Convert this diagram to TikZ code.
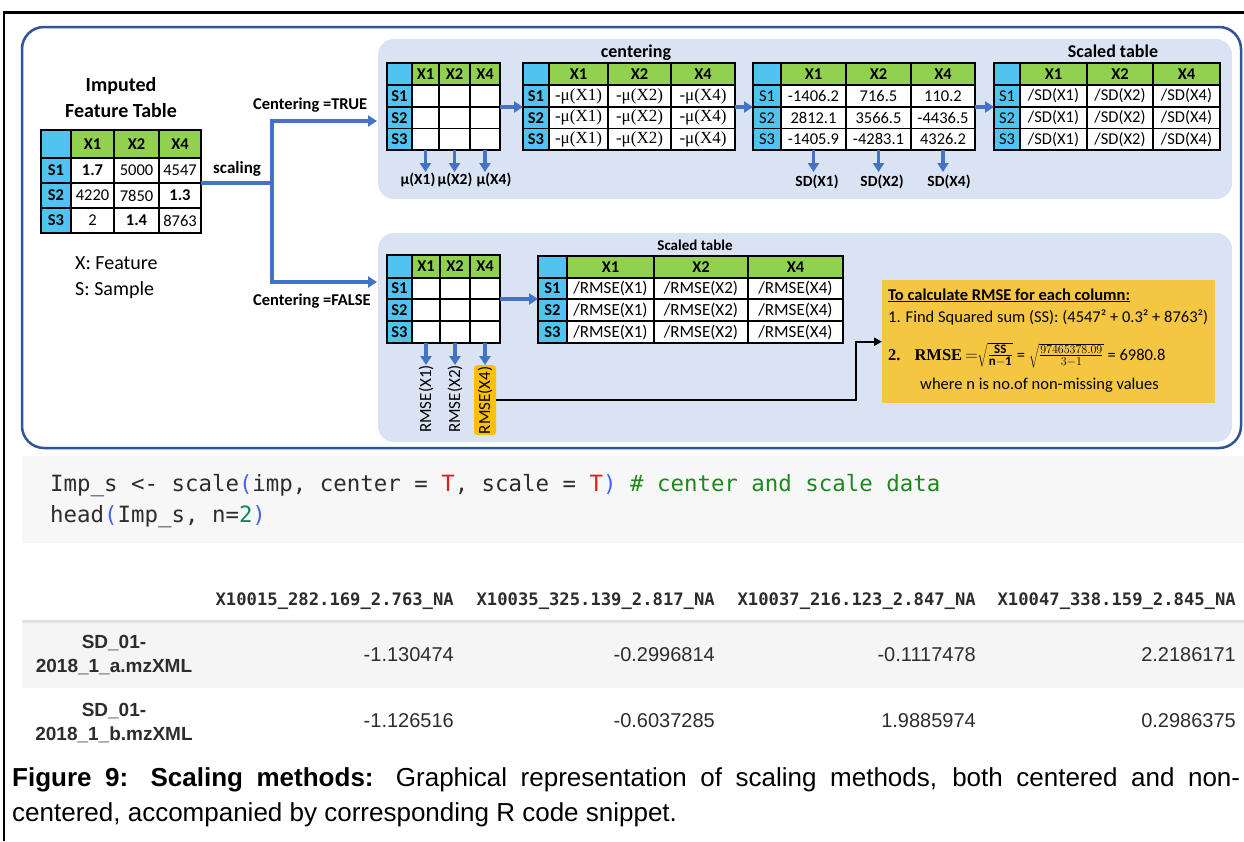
\documentclass[tikz,border=0pt]{standalone}
\usepackage{fontspec}
\setmainfont{Carlito}
\newfontfamily\tnr{Liberation Serif}
\newfontfamily\arial{Liberation Sans}
\newfontfamily\dmono{DejaVu Sans Mono}
\usetikzlibrary{arrows.meta,calc}
\definecolor{colgreen}{RGB}{146,208,80}
\definecolor{rowblue}{RGB}{80,195,240}
\definecolor{panel}{RGB}{218,227,243}
\definecolor{frameblue}{RGB}{47,85,151}
\definecolor{arrowblue}{RGB}{68,114,196}
\definecolor{gold}{RGB}{245,198,66}
\definecolor{orangeY}{RGB}{255,192,0}
\definecolor{codebg}{RGB}{247,247,247}
\definecolor{rowbg}{RGB}{245,245,245}
\definecolor{sepgray}{RGB}{225,225,225}
\definecolor{rred}{RGB}{225,30,30}
\definecolor{rblue}{RGB}{70,100,235}
\definecolor{rgreen}{RGB}{30,135,30}
\definecolor{rnum}{RGB}{20,135,90}
\definecolor{txtgray}{RGB}{45,45,45}
\tikzset{
  cellbox/.style={draw=black, line width=1.4pt, inner sep=0pt, outer sep=0pt, anchor=north west},
  arr/.style={draw=arrowblue, line width=3.2pt, -{Triangle[length=9pt,width=11pt]}},
  conn/.style={draw=arrowblue, line width=3.2pt},
  blkarr/.style={draw=black, line width=2pt, -{Triangle[length=8pt,width=8pt]}},
  lbl/.style={inner sep=0pt, anchor=base, font=\bfseries\fontsize{15.5}{18}\selectfont},
  ttl/.style={inner sep=0pt, anchor=base, font=\bfseries\fontsize{18}{21}\selectfont},
  rotlbl/.style={rotate=90, inner sep=0pt, anchor=east, font=\fontsize{17}{19}\selectfont},
  txt/.style={inner sep=0pt, anchor=base west},
  boxtxt/.style={inner sep=0pt, anchor=base west, font=\fontsize{16.5}{19}\selectfont},
}
% #1 name, #2 x list, #3 y list, #4 label font, #5 cell font, #6 rows
\newcommand\mktab[6]{%
  \def\XS{{#2}}\def\YS{{#3}}%
  \foreach \ci/\h in {0/{},1/X1,2/X2,3/X4}{%
    \pgfmathsetmacro\xa{\XS[\ci]}%
    \pgfmathsetmacro\xb{\XS[\ci+1]}%
    \pgfmathsetmacro\ya{\YS[0]}%
    \pgfmathsetmacro\yb{\YS[1]}%
    \ifnum\ci=0 \def\fc{rowblue}\else\def\fc{colgreen}\fi
    \node[cellbox, fill=\fc, minimum width={(\xb-\xa)*1pt}, minimum height={(\yb-\ya)*1pt}, font=\bfseries\fontsize{16.5}{19}\selectfont] (#1-0-\ci) at (\xa,\ya) {\h};
  }%
  \foreach \lab/\va/\vb/\vc [count=\ri] in {#6}{%
    \foreach \ci/\ct in {0/{#4\lab},1/{#5\va},2/{#5\vb},3/{#5\vc}}{%
      \pgfmathsetmacro\xa{\XS[\ci]}%
      \pgfmathsetmacro\xb{\XS[\ci+1]}%
      \pgfmathsetmacro\ya{\YS[\ri]}%
      \pgfmathsetmacro\yb{\YS[\ri+1]}%
      \ifnum\ci=0 \def\fc{rowblue}\else\def\fc{white}\fi
      \node[cellbox, fill=\fc, minimum width={(\xb-\xa)*1pt}, minimum height={(\yb-\ya)*1pt}] (#1-\ri-\ci) at (\xa,\ya) {\ct};
    }%
  }%
}
\begin{document}
\begin{tikzpicture}[x=1pt,y=-1pt]
\useasboundingbox (0,0) rectangle (1244,841);
\fill[white] (0,0) rectangle (1244,841);
% page frame
\draw[line width=2.8pt] (4,841) -- (4,12.5) -- (1244,12.5);
% outer rounded box and panels
\draw[frameblue, line width=2.5pt, rounded corners=22pt] (22,27) rectangle (1241,448);
\fill[panel, rounded corners=16pt] (378,39) rectangle (1232,199);
\fill[panel, rounded corners=16pt] (378,233) rectangle (1232,442);

% left table
\node[inner sep=0pt, align=center, font=\bfseries\fontsize{20}{26}\selectfont] (ttlLT) at (121,98) {Imputed\\Feature Table};
\mktab{LT}{41,71,114,159,201}{130,158,183,208,233}{\bfseries\fontsize{16.5}{19}\selectfont}{\fontsize{16.5}{19}\selectfont}
 {S1/{\bfseries 1.7}/5000/4547, S2/4220/7850/{\bfseries 1.3}, S3/2/{\bfseries 1.4}/8763}
\node[txt, font=\fontsize{20}{24}\selectfont] (legX) at (75,269) {X: Feature};
\node[txt, font=\fontsize{20}{24}\selectfont] (legS) at (75,295) {S: Sample};

% split
\coordinate (split) at (272,183);
\coordinate (topin) at (377,121);
\coordinate (botin) at (377,282);
\draw[conn] (LT-1-3.south east) -- (split);
\draw[arr] (split) |- (topin);
\draw[arr] (split) |- (botin);
\node[txt, font=\bfseries\fontsize{17}{20}\selectfont] (scl) at (213,173) {scaling};
\node[txt, font=\bfseries\fontsize{16.5}{20}\selectfont] (ctrue) at (253,109) {Centering =TRUE};
\node[txt, font=\bfseries\fontsize{16.5}{20}\selectfont] (cfalse) at (253,305) {Centering =FALSE};

% top panel tables
\mktab{T1}{387,412,439,470,500}{63,85,107,128.5,150}{\bfseries\fontsize{16.5}{19}\selectfont}{\fontsize{16}{19}\selectfont}
 {S1/{}/{}/{}, S2/{}/{}/{}, S3/{}/{}/{}}
\mktab{T2}{523,549,608,671,735}{63,85,107,128.5,150}{\bfseries\fontsize{16.5}{19}\selectfont}{\tnr\fontsize{17}{19}\selectfont}
 {S1/{-μ(X1)}/{-μ(X2)}/{-μ(X4)}, S2/{-μ(X1)}/{-μ(X2)}/{-μ(X4)}, S3/{-μ(X1)}/{-μ(X2)}/{-μ(X4)}}
\mktab{T3}{753,781,846,911,975}{63,85,107,128.5,150}{\fontsize{16.5}{19}\selectfont}{\fontsize{16.5}{19}\selectfont}
 {S1/{-1406.2}/{716.5}/{110.2}, S2/{2812.1}/{3566.5}/{-4436.5}, S3/{-1405.9}/{-4283.1}/{4326.2}}
\mktab{T4}{994,1020,1087,1153,1220}{63,85,107,128.5,150}{\fontsize{16.5}{19}\selectfont}{\fontsize{16.5}{19}\selectfont}
 {S1/{/SD(X1)}/{/SD(X2)}/{/SD(X4)}, S2/{/SD(X1)}/{/SD(X2)}/{/SD(X4)}, S3/{/SD(X1)}/{/SD(X2)}/{/SD(X4)}}
\node[ttl] (tcent) at (636,57) {centering};
\node[ttl] (tscal) at (1113,57) {Scaled table};
\draw[arr] (T1-2-3.north east) -- (T2-2-0.north west);
\draw[arr] (T2-2-3.north east) -- (T3-2-0.north west);
\draw[arr] (T3-2-3.north east) -- (T4-2-0.north west);
% mu labels
\node[lbl] (mu1) at (418,184) {μ(X1)};
\node[lbl] (mu2) at (455,184) {μ(X2)};
\node[lbl] (mu4) at (494,184) {μ(X4)};
\draw[arr] (T1-3-1.south) -- ++(0,22);
\draw[arr] (T1-3-2.south) -- ++(0,22);
\draw[arr] (T1-3-3.south) -- ++(0,22);
% SD labels
\node[lbl] (sd1) at (817,186) {SD(X1)};
\node[lbl] (sd2) at (882,186) {SD(X2)};
\node[lbl] (sd4) at (949,186) {SD(X4)};
\draw[arr] (T3-3-1.south) -- ++(0,22);
\draw[arr] (T3-3-2.south) -- ++(0,22);
\draw[arr] (T3-3-3.south) -- ++(0,22);

% bottom panel tables
\mktab{B1}{387,412,440,470,500}{255,278,299,321,343}{\bfseries\fontsize{16.5}{19}\selectfont}{\fontsize{16}{19}\selectfont}
 {S1/{}/{}/{}, S2/{}/{}/{}, S3/{}/{}/{}}
\mktab{B2}{538,567,654,748,843}{256,278,299,321,343}{\bfseries\fontsize{16.5}{19}\selectfont}{\fontsize{17}{19}\selectfont}
 {S1/{/RMSE(X1)}/{/RMSE(X2)}/{/RMSE(X4)}, S2/{/RMSE(X1)}/{/RMSE(X2)}/{/RMSE(X4)}, S3/{/RMSE(X1)}/{/RMSE(X2)}/{/RMSE(X4)}}
\node[inner sep=0pt, anchor=base, font=\bfseries\fontsize{15}{18}\selectfont] (tscal2) at (695,250) {Scaled table};
\draw[arr] (B1-2-3.north east) -- (B2-2-0.north west);
\node[rotlbl] (r1) at ([yshift=-22pt]B1-3-1.south) {RMSE(X1)};
\node[rotlbl] (r2) at ([yshift=-22pt]B1-3-2.south) {RMSE(X2)};
\node[rotlbl, fill=orangeY, rounded corners=3pt, minimum width=70pt, minimum height=22pt] (r4) at ([yshift=-22pt]B1-3-3.south) {RMSE(X4)};
\draw[arr] (B1-3-1.south) -- (r1.east);
\draw[arr] (B1-3-2.south) -- (r2.east);
\draw[arr] (B1-3-3.south) -- (r4.east);

% RMSE box
\node[fill=gold, inner sep=0pt, anchor=north west, minimum width=333pt, minimum height=123pt] (rmsebox) at (882,280) {};
\draw[blkarr] (r4.south) -| ([xshift=-26pt]rmsebox.west) -- (rmsebox.west);
\node[boxtxt] (rm1) at (888,300) {\underline{\textbf{To calculate RMSE for each column:}}};
\node[boxtxt] (rm2) at (888,322) {1. Find Squared sum (SS): (4547² + 0.3² + 8763²)};
\node[boxtxt] (rm3) at (888,360) {{\tnr\bfseries 2.\hspace{14pt}RMSE}\hspace{3pt}{\fontsize{18.5}{20}\selectfont$\mathbf{=}\sqrt{\frac{\mathbf{SS}}{\rule{0pt}{8pt}\mathbf{n-1}}}$}\hspace{4pt}=\hspace{4pt}{\fontsize{18.5}{20}\selectfont$\sqrt{\frac{97465378.09}{\rule{0pt}{8pt}3-1}}$}\hspace{4pt}= 6980.8};
\node[boxtxt] (rm4) at (920,389) {where n is no.of non-missing values};

% code block
\fill[codebg] (22,456) rectangle (1244,543);
\node[txt, font=\dmono\fontsize{22.4}{27}\selectfont, text=txtgray] (code1) at (50,491)
 {Imp\_s <- scale\textcolor{rblue}{(}imp, center = \textcolor{rred}{T}, scale = \textcolor{rred}{T}\textcolor{rblue}{)} \textcolor{rgreen}{\# center and scale data}};
\node[txt, font=\dmono\fontsize{22.4}{27}\selectfont, text=txtgray] (code2) at (50,522)
 {head\textcolor{rblue}{(}Imp\_s, n=\textcolor{rnum}{2}\textcolor{rblue}{)}};

% output table
\fill[sepgray] (22,620) rectangle (1244,623);
\fill[rowbg] (22,623) rectangle (1244,688);
\tikzset{hdr/.style={inner sep=0pt, anchor=base east, font=\dmono\bfseries\fontsize{17.2}{20}\selectfont, text=txtgray},
 val/.style={inner sep=0pt, anchor=base east, font=\arial\fontsize{20}{24}\selectfont, text=txtgray},
 rlab/.style={inner sep=0pt, align=center, font=\arial\bfseries\fontsize{19}{24}\selectfont, text=txtgray}}
\node[hdr] (h1) at (454,605) {X10015\_282.169\_2.763\_NA};
\node[hdr] (h2) at (715,605) {X10035\_325.139\_2.817\_NA};
\node[hdr] (h3) at (976,605) {X10037\_216.123\_2.847\_NA};
\node[hdr] (h4) at (1236,605) {X10047\_338.159\_2.845\_NA};
\node[rlab] (l1) at (114,655) {SD\_01-\\2018\_1\_a.mzXML};
\node[rlab] (l2) at (114,723) {SD\_01-\\2018\_1\_b.mzXML};
\node[val] (v11) at (454,661) {-1.130474};
\node[val] (v12) at (715,661) {-0.2996814};
\node[val] (v13) at (976,661) {-0.1117478};
\node[val] (v14) at (1236,661) {2.2186171};
\node[val] (v21) at (454,727) {-1.126516};
\node[val] (v22) at (715,727) {-0.6037285};
\node[val] (v23) at (976,727) {1.9885974};
\node[val] (v24) at (1236,727) {0.2986375};

% caption
\node[txt, font=\arial\fontsize{26}{32}\selectfont] (cap1) at (12,786)
 {\makebox[1228pt][s]{\textbf{Figure 9: Scaling methods:} Graphical representation of scaling methods, both centered and non-}};
\node[txt, font=\arial\fontsize{26}{32}\selectfont] (cap2) at (12,821)
 {centered, accompanied by corresponding R code snippet.};
\end{tikzpicture}
\end{document}
